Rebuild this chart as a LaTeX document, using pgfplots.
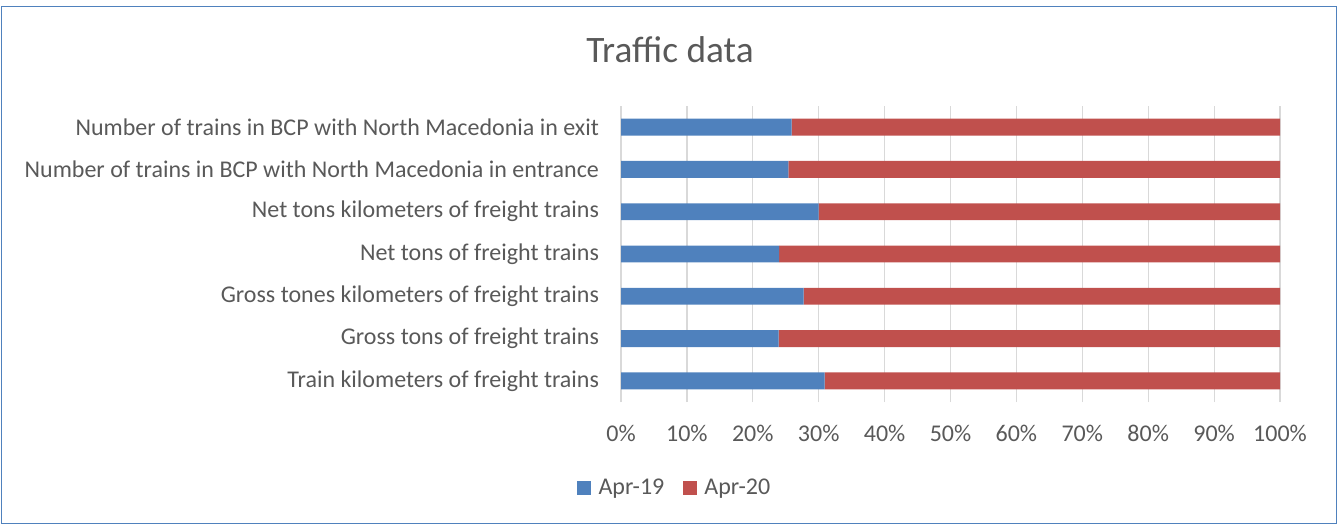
\documentclass[border=0pt]{standalone}
\usepackage{pgfplots}
\pgfplotsset{compat=1.18}
\usepackage{pgfplotstable}
\usepackage{fontspec}
\setmainfont{Carlito}

\definecolor{aprA}{HTML}{4F81BD}
\definecolor{aprB}{HTML}{C0504D}
\definecolor{txt}{HTML}{595959}
\definecolor{gridc}{HTML}{D9D9D9}
\definecolor{frame}{HTML}{4F81BD}

% share of each year in the total, in %
\pgfplotstableread{
y  a19   a20
0  30.9  69.1
1  23.9  76.1
2  27.7  72.3
3  24.0  76.0
4  30.0  70.0
5  25.4  74.6
6  25.9  74.1
}\traffic

\begin{document}
\begin{tikzpicture}
  \draw[frame, line width=0.7pt] (1.1pt,-4.9pt) rectangle (1002.4pt,-392.25pt);
  \path (0pt,0pt) (1003.5pt,-392.25pt);
  \node[txt, font=\fontsize{28}{32}\selectfont] at (502.5pt,-37.5pt) {Traffic data};
  \begin{axis}[
    at={(465.75pt,-301.5pt)}, anchor=south west,
    scale only axis,
    width=494.25pt, height=222pt,
    xbar stacked, bar width=0.4,
    xmin=0, xmax=100,
    ymin=-0.5, ymax=6.5,
    xtick={0,10,...,100},
    xticklabels={0\%,10\%,20\%,30\%,40\%,50\%,60\%,70\%,80\%,90\%,100\%},
    ytick={0,...,6},
    yticklabels={Train kilometers of freight trains,
      Gross tons of freight trains,
      Gross tones kilometers of freight trains,
      Net tons of freight trains,
      Net tons kilometers of freight trains,
      Number of trains in BCP with North Macedonia in entrance,
      Number of trains in BCP with North Macedonia in exit},
    ticklabel style={font=\fontsize{18}{21}\selectfont, text=txt},
    xticklabel style={yshift=-13.5pt},
    yticklabel style={xshift=-13pt},
    xmajorgrids, grid style={gridc, line width=0.9pt},
    major tick length=0pt,
    axis x line*=bottom, axis y line*=left,
    x axis line style={draw=none},
    y axis line style={draw=gridc, line width=0.9pt},
    legend style={at={(0.082,-0.29)}, anchor=center, draw=none,
      font=\fontsize{18}{21}\selectfont, text=txt,
      legend columns=-1, inner sep=0pt,
      /tikz/every even column/.append style={column sep=12pt}},
    legend image code/.code={\fill[#1] (0pt,-5.25pt) rectangle (10.5pt,5.25pt);
      \path (14pt,0pt);},
    legend cell align=left,
  ]
    \addplot[fill=aprA, draw=none] table[x=a19, y=y] {\traffic};
    \addplot[fill=aprB, draw=none] table[x=a20, y=y] {\traffic};
    \legend{Apr-19, Apr-20}
  \end{axis}
\end{tikzpicture}
\end{document}
